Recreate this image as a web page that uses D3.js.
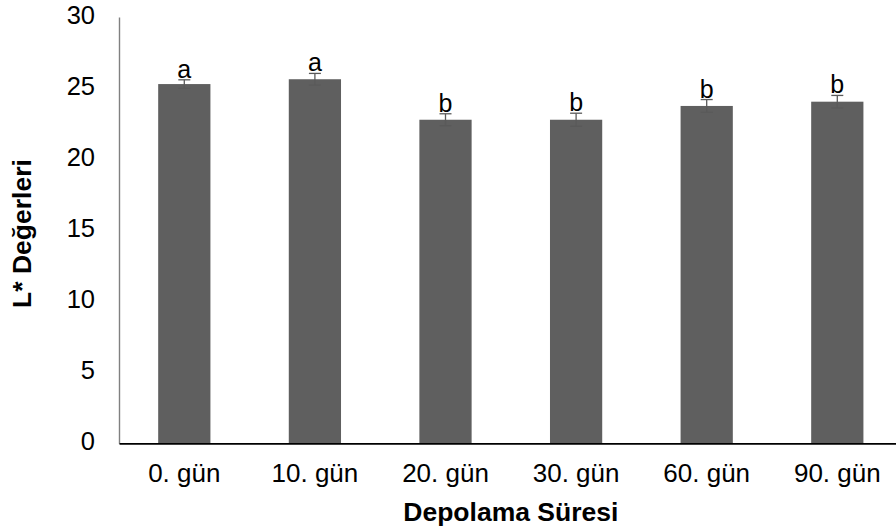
<!DOCTYPE html>
<html>
<head>
<meta charset="utf-8">
<script src="https://cdn.jsdelivr.net/npm/d3@7"></script>
<style>
  html, body { margin: 0; padding: 0; background: #fff; }
  svg { display: block; font-family: "Liberation Sans", Arial, sans-serif; }
</style>
</head>
<body>
<svg id="chart" width="896" height="531"></svg>
<script>
// Storage days and mean L* values with standard errors and significance letters
const categories = ["0. gün", "10. gün", "20. gün", "30. gün", "60. gün", "90. gün"];
const means = [25.28, 25.62, 22.77, 22.77, 23.74, 24.04];
const errors = [0.30, 0.41, 0.42, 0.46, 0.45, 0.44];
const letters = ["a", "a", "b", "b", "b", "b"];
const yTicks = [0, 5, 10, 15, 20, 25, 30];

const svg = d3.select("#chart");
const plotLeft = 119, plotRight = 902.6, plotTop = 17, plotBottom = 443.3;

const x = d3.scaleBand()
  .domain(categories)
  .range([plotLeft, plotRight])
  .paddingInner(0.6)
  .paddingOuter(0.3);

const y = d3.scaleLinear().domain([0, 30]).range([plotBottom, plotTop]);

const rows = categories.map((c, i) => ({ c, v: means[i], e: errors[i], l: letters[i] }));

// Bars
svg.append("g").selectAll("rect").data(rows).join("rect")
  .attr("x", d => x(d.c))
  .attr("y", d => y(d.v))
  .attr("width", x.bandwidth())
  .attr("height", d => y(0) - y(d.v))
  .attr("fill", "#5f5f5f");

// Error bars
const eb = svg.append("g").attr("stroke", "#5a5a5a").attr("stroke-width", 1.3);
rows.forEach(d => {
  const cx = x(d.c) + x.bandwidth() / 2;
  eb.append("line").attr("x1", cx).attr("x2", cx).attr("y1", y(d.v + d.e)).attr("y2", y(d.v - d.e));
  eb.append("line").attr("x1", cx - 6).attr("x2", cx + 6).attr("y1", y(d.v + d.e)).attr("y2", y(d.v + d.e));
  eb.append("line").attr("x1", cx - 6).attr("x2", cx + 6).attr("y1", y(d.v - d.e)).attr("y2", y(d.v - d.e));
});

// Significance letters
svg.append("g").selectAll("text").data(rows).join("text")
  .attr("x", d => x(d.c) + x.bandwidth() / 2)
  .attr("y", d => y(d.v + d.e) - 2)
  .attr("text-anchor", "middle")
  .attr("font-size", 25)
  .attr("fill", "#000")
  .text(d => d.l);

// Y axis
const yAxis = svg.append("g")
  .attr("transform", `translate(${plotLeft},0)`)
  .call(d3.axisLeft(y).tickValues(yTicks).tickSize(0).tickPadding(24));
yAxis.select(".domain").attr("stroke", "#808080").attr("stroke-width", 1.4);
yAxis.selectAll("text").attr("font-size", 25.5).attr("fill", "#000").attr("dy", "0.24em")
  .attr("font-family", "Liberation Sans, Arial, sans-serif");

// X axis
const xAxis = svg.append("g")
  .attr("transform", `translate(0,${plotBottom})`)
  .call(d3.axisBottom(x).tickSize(0).tickPadding(20));
xAxis.select(".domain").attr("stroke", "#000").attr("stroke-width", 1.7);
xAxis.selectAll("text").attr("font-size", 26).attr("fill", "#000")
  .attr("font-family", "Liberation Sans, Arial, sans-serif");

// Axis titles
svg.append("text")
  .attr("x", (plotLeft + plotRight) / 2)
  .attr("y", 521)
  .attr("text-anchor", "middle")
  .attr("font-size", 26.5)
  .attr("font-weight", "bold")
  .text("Depolama Süresi");

svg.append("text")
  .attr("transform", "translate(31,233.5) rotate(-90)")
  .attr("text-anchor", "middle")
  .attr("font-size", 26.5)
  .attr("font-weight", "bold")
  .text("L* Değerleri");
</script>
</body>
</html>
